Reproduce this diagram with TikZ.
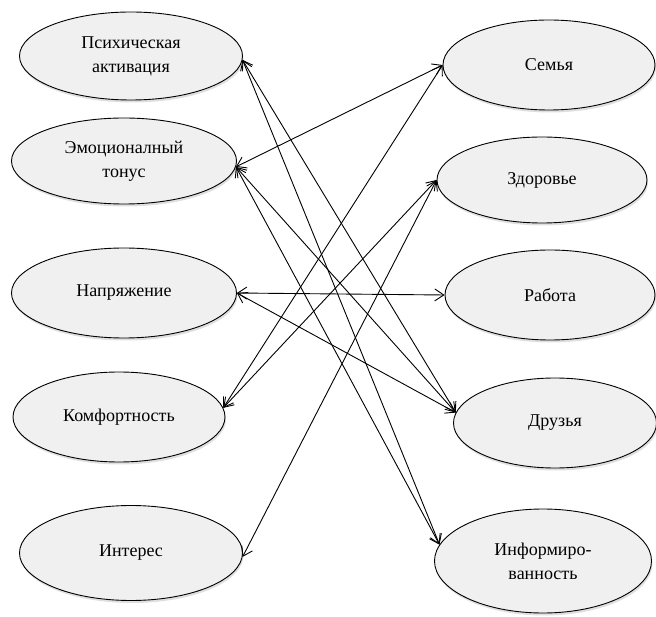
\documentclass[tikz,border=0pt]{standalone}
\usepackage{fontspec}
\setmainfont{Liberation Serif}
\usetikzlibrary{shapes.geometric, arrows.meta, shadows}

\tikzset{oval/.style 2 args={
    	ellipse, draw=black, fill=black!6, line width=0.9pt,
    	minimum width=#1pt, minimum height=#2pt, inner sep=0pt,
    	drop shadow={shadow xshift=1pt, shadow yshift=-2.5pt, opacity=0.25},
    	align=center, font=\fontsize{18}{24}\selectfont
  	},
  	link/.style={
    	black, line width=0.9pt,
    	{Straight Barb[length=9pt,width=12pt]}-{Straight Barb[length=9pt,width=12pt]}
  	}
}

\begin{document}
\begin{tikzpicture}[x=1pt, y=-1pt]
		\useasboundingbox (0,0) rectangle (656,617);
		% left column
		\node [oval={223}{88}] (psych) at (131,56) {Психическая\\активация};
		\node [oval={225}{86}] (emot) at (124,161) {Эмоционалный\\тонус};
		\node [oval={225}{90}] (tension) at (124,293) {Напряжение};
		\node [oval={212}{90}] (comfort) at (119,417) {Комфортность};
		\node [oval={223}{95}] (interest) at (131,553) {Интерес};
		% right column
		\node [oval={212}{90}] (family) at (549,65) {Семья};
		\node [oval={210}{86}] (health) at (542,180) {Здоровье};
		\node [oval={210}{90}] (work) at (550,295) {Работа};
		\node [oval={203}{90}] (friends) at (555,423) {Друзья};
		\node [oval={217}{104}] (info) at (543,561) {Информиро-\\ванность};
		% links
		\foreach \a/\b in {psych.-2/friends.174, psych.-2/info.171,
			emot.-3/family.west, emot.-3/friends.174, emot.-3/info.171,
			tension.east/work.west, tension.east/friends.174,
			comfort.5/family.west, comfort.5/health.west,
			interest.-2/health.west}
			\draw [link] (\a) -- (\b);
	\end{tikzpicture}
\end{document}
